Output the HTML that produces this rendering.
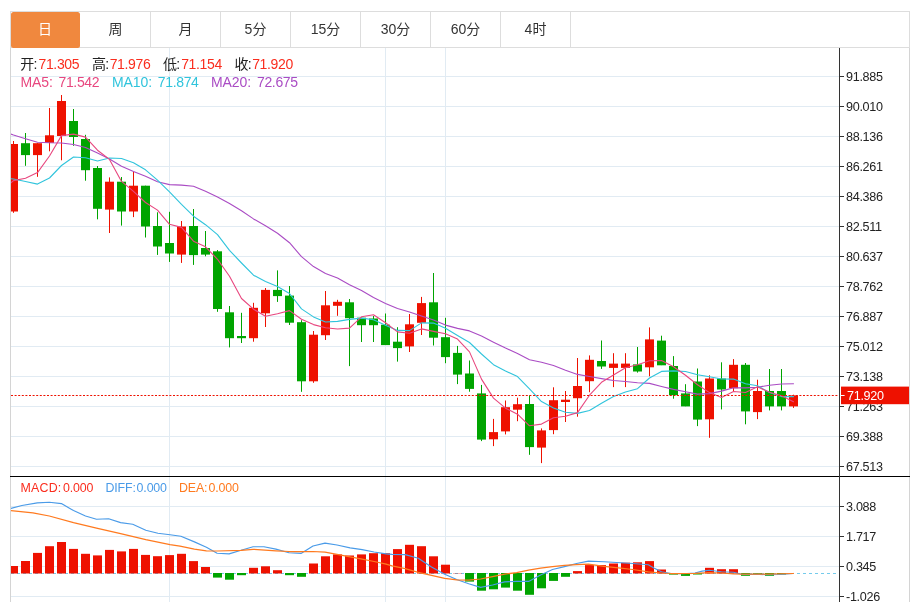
<!DOCTYPE html>
<html lang="zh"><head><meta charset="utf-8"><title>K线图</title>
<style>
html,body{margin:0;padding:0;background:#fff;}
body{width:918px;height:602px;position:relative;overflow:hidden;font-family:"Liberation Sans","Noto Sans CJK SC",sans-serif;}
.tabs{position:absolute;left:10px;top:11px;width:898px;height:35px;border:1px solid #ddd;background:#fff;}
.tab{float:left;width:69px;height:35px;line-height:35px;border-right:1px solid #ddd;text-align:center;font-size:14px;color:#333;}
.tab.on{background:#f0883e;color:#fff;width:68px;padding-right:1px;height:36px;border-right:none;margin-right:1px;border-radius:2.5px;position:relative;}
.ax{font-family:"Liberation Sans",sans-serif;font-size:12.6px;letter-spacing:-0.3px;fill:#222;}
.t{position:absolute;white-space:nowrap;line-height:16px;height:16px;}
.h1{font-size:14px;top:56.1px;}
.h2{font-size:14px;top:74.1px;}
.m{font-size:12.4px;top:480px;letter-spacing:-0.15px;}
.n{letter-spacing:-0.35px;}
.l{letter-spacing:-0.1px;}
</style></head><body>
<svg width="918" height="602" viewBox="0 0 918 602" style="position:absolute;left:0;top:0"><defs><clipPath id="cp"><rect x="11" y="48" width="828" height="554"/></clipPath></defs><rect x="11" y="76" width="828" height="1" fill="#e1ebf3"/><rect x="11" y="106" width="828" height="1" fill="#e1ebf3"/><rect x="11" y="136" width="828" height="1" fill="#e1ebf3"/><rect x="11" y="166" width="828" height="1" fill="#e1ebf3"/><rect x="11" y="196" width="828" height="1" fill="#e1ebf3"/><rect x="11" y="226" width="828" height="1" fill="#e1ebf3"/><rect x="11" y="256" width="828" height="1" fill="#e1ebf3"/><rect x="11" y="286" width="828" height="1" fill="#e1ebf3"/><rect x="11" y="316" width="828" height="1" fill="#e1ebf3"/><rect x="11" y="346" width="828" height="1" fill="#e1ebf3"/><rect x="11" y="376" width="828" height="1" fill="#e1ebf3"/><rect x="11" y="406" width="828" height="1" fill="#e1ebf3"/><rect x="11" y="436" width="828" height="1" fill="#e1ebf3"/><rect x="11" y="466" width="828" height="1" fill="#e1ebf3"/><rect x="11" y="506" width="828" height="1" fill="#e1ebf3"/><rect x="11" y="536" width="828" height="1" fill="#e1ebf3"/><rect x="11" y="566" width="828" height="1" fill="#e1ebf3"/><rect x="11" y="596" width="828" height="1" fill="#e1ebf3"/><rect x="169" y="48" width="1" height="554" fill="#e1ebf3"/><rect x="385" y="48" width="1" height="554" fill="#e1ebf3"/><rect x="445" y="48" width="1" height="554" fill="#e1ebf3"/><rect x="10" y="48" width="1" height="554" fill="#d4d4d4"/><rect x="909" y="48" width="1" height="554" fill="#d4d4d4"/><g clip-path="url(#cp)"><rect x="13" y="141.0" width="1" height="71.8" fill="#ee1100"/><rect x="9" y="144.0" width="9" height="67.5" fill="#ee1100"/><rect x="25" y="133.0" width="1" height="32.8" fill="#00a400"/><rect x="21" y="143.2" width="9" height="11.9" fill="#00a400"/><rect x="37" y="143.2" width="1" height="33.6" fill="#ee1100"/><rect x="33" y="143.2" width="9" height="11.9" fill="#ee1100"/><rect x="49" y="108.0" width="1" height="43.3" fill="#ee1100"/><rect x="45" y="135.3" width="9" height="7.5" fill="#ee1100"/><rect x="61" y="95.0" width="1" height="65.3" fill="#ee1100"/><rect x="57" y="101.0" width="9" height="35.0" fill="#ee1100"/><rect x="73" y="109.0" width="1" height="36.8" fill="#00a400"/><rect x="69" y="121.0" width="9" height="16.0" fill="#00a400"/><rect x="85" y="134.8" width="1" height="45.9" fill="#00a400"/><rect x="81" y="139.0" width="9" height="31.2" fill="#00a400"/><rect x="97" y="166.0" width="1" height="53.3" fill="#00a400"/><rect x="93" y="168.0" width="9" height="40.8" fill="#00a400"/><rect x="109" y="177.4" width="1" height="55.6" fill="#ee1100"/><rect x="105" y="181.7" width="9" height="27.9" fill="#ee1100"/><rect x="121" y="177.0" width="1" height="48.6" fill="#00a400"/><rect x="117" y="181.7" width="9" height="29.8" fill="#00a400"/><rect x="133" y="171.7" width="1" height="45.4" fill="#ee1100"/><rect x="129" y="185.7" width="9" height="25.8" fill="#ee1100"/><rect x="145" y="185.7" width="1" height="51.8" fill="#00a400"/><rect x="141" y="185.7" width="9" height="40.8" fill="#00a400"/><rect x="157" y="212.3" width="1" height="42.6" fill="#00a400"/><rect x="153" y="226.0" width="9" height="20.5" fill="#00a400"/><rect x="169" y="211.8" width="1" height="50.1" fill="#00a400"/><rect x="165" y="243.0" width="9" height="10.5" fill="#00a400"/><rect x="181" y="221.0" width="1" height="41.9" fill="#ee1100"/><rect x="177" y="226.5" width="9" height="28.1" fill="#ee1100"/><rect x="193" y="209.0" width="1" height="55.9" fill="#00a400"/><rect x="189" y="226.0" width="9" height="29.1" fill="#00a400"/><rect x="205" y="231.0" width="1" height="25.3" fill="#00a400"/><rect x="201" y="248.0" width="9" height="6.6" fill="#00a400"/><rect x="217" y="250.0" width="1" height="61.8" fill="#00a400"/><rect x="213" y="251.3" width="9" height="57.7" fill="#00a400"/><rect x="229" y="306.0" width="1" height="41.4" fill="#00a400"/><rect x="225" y="312.3" width="9" height="25.9" fill="#00a400"/><rect x="241" y="312.8" width="1" height="30.2" fill="#00a400"/><rect x="237" y="336.0" width="9" height="2.2" fill="#00a400"/><rect x="253" y="302.8" width="1" height="38.9" fill="#ee1100"/><rect x="249" y="307.8" width="9" height="30.4" fill="#ee1100"/><rect x="265" y="288.0" width="1" height="39.0" fill="#ee1100"/><rect x="261" y="289.9" width="9" height="23.4" fill="#ee1100"/><rect x="277" y="270.4" width="1" height="31.5" fill="#00a400"/><rect x="273" y="289.9" width="9" height="6.2" fill="#00a400"/><rect x="289" y="286.0" width="1" height="39.0" fill="#00a400"/><rect x="285" y="295.6" width="9" height="27.1" fill="#00a400"/><rect x="301" y="320.2" width="1" height="71.6" fill="#00a400"/><rect x="297" y="322.2" width="9" height="59.1" fill="#00a400"/><rect x="313" y="331.0" width="1" height="51.8" fill="#ee1100"/><rect x="309" y="334.7" width="9" height="46.6" fill="#ee1100"/><rect x="325" y="291.0" width="1" height="49.0" fill="#ee1100"/><rect x="321" y="305.3" width="9" height="29.9" fill="#ee1100"/><rect x="337" y="299.8" width="1" height="16.0" fill="#ee1100"/><rect x="333" y="301.8" width="9" height="4.0" fill="#ee1100"/><rect x="349" y="299.0" width="1" height="67.1" fill="#00a400"/><rect x="345" y="302.3" width="9" height="15.9" fill="#00a400"/><rect x="361" y="317.7" width="1" height="24.3" fill="#00a400"/><rect x="357" y="317.7" width="9" height="7.5" fill="#00a400"/><rect x="373" y="316.0" width="1" height="26.0" fill="#00a400"/><rect x="369" y="318.5" width="9" height="6.7" fill="#00a400"/><rect x="385" y="313.5" width="1" height="31.4" fill="#00a400"/><rect x="381" y="324.7" width="9" height="20.4" fill="#00a400"/><rect x="397" y="327.2" width="1" height="34.4" fill="#00a400"/><rect x="393" y="341.7" width="9" height="6.4" fill="#00a400"/><rect x="409" y="314.0" width="1" height="38.0" fill="#ee1100"/><rect x="405" y="324.3" width="9" height="22.1" fill="#ee1100"/><rect x="421" y="296.9" width="1" height="38.1" fill="#ee1100"/><rect x="417" y="303.1" width="9" height="19.7" fill="#ee1100"/><rect x="433" y="273.0" width="1" height="72.5" fill="#00a400"/><rect x="429" y="302.3" width="9" height="35.4" fill="#00a400"/><rect x="445" y="317.8" width="1" height="45.4" fill="#00a400"/><rect x="441" y="337.2" width="9" height="19.9" fill="#00a400"/><rect x="457" y="345.9" width="1" height="38.2" fill="#00a400"/><rect x="453" y="352.9" width="9" height="21.7" fill="#00a400"/><rect x="469" y="360.5" width="1" height="31.2" fill="#00a400"/><rect x="465" y="373.5" width="9" height="15.4" fill="#00a400"/><rect x="481" y="384.9" width="1" height="56.2" fill="#00a400"/><rect x="477" y="393.4" width="9" height="46.2" fill="#00a400"/><rect x="493" y="418.9" width="1" height="27.2" fill="#ee1100"/><rect x="489" y="432.1" width="9" height="7.2" fill="#ee1100"/><rect x="505" y="400.5" width="1" height="33.9" fill="#ee1100"/><rect x="501" y="407.2" width="9" height="24.2" fill="#ee1100"/><rect x="517" y="397.7" width="1" height="23.5" fill="#ee1100"/><rect x="513" y="404.2" width="9" height="5.5" fill="#ee1100"/><rect x="529" y="395.3" width="1" height="59.5" fill="#00a400"/><rect x="525" y="404.0" width="9" height="43.1" fill="#00a400"/><rect x="541" y="428.4" width="1" height="34.7" fill="#ee1100"/><rect x="537" y="430.4" width="9" height="17.2" fill="#ee1100"/><rect x="553" y="387.3" width="1" height="46.9" fill="#ee1100"/><rect x="549" y="400.2" width="9" height="29.9" fill="#ee1100"/><rect x="565" y="391.0" width="1" height="31.0" fill="#ee1100"/><rect x="561" y="399.7" width="9" height="2.3" fill="#ee1100"/><rect x="577" y="358.0" width="1" height="58.7" fill="#ee1100"/><rect x="573" y="386.0" width="9" height="12.2" fill="#ee1100"/><rect x="589" y="355.4" width="1" height="36.8" fill="#ee1100"/><rect x="585" y="359.8" width="9" height="21.4" fill="#ee1100"/><rect x="601" y="340.5" width="1" height="28.4" fill="#00a400"/><rect x="597" y="361.0" width="9" height="5.5" fill="#00a400"/><rect x="613" y="353.2" width="1" height="33.9" fill="#ee1100"/><rect x="609" y="363.6" width="9" height="4.3" fill="#ee1100"/><rect x="625" y="353.2" width="1" height="33.9" fill="#ee1100"/><rect x="621" y="363.6" width="9" height="4.3" fill="#ee1100"/><rect x="637" y="347.0" width="1" height="25.6" fill="#00a400"/><rect x="633" y="364.4" width="9" height="7.1" fill="#00a400"/><rect x="649" y="327.4" width="1" height="48.9" fill="#ee1100"/><rect x="645" y="339.4" width="9" height="27.9" fill="#ee1100"/><rect x="661" y="335.7" width="1" height="29.4" fill="#00a400"/><rect x="657" y="340.6" width="9" height="24.7" fill="#00a400"/><rect x="673" y="356.1" width="1" height="42.6" fill="#00a400"/><rect x="669" y="366.0" width="9" height="29.2" fill="#00a400"/><rect x="685" y="384.2" width="1" height="22.0" fill="#00a400"/><rect x="681" y="393.4" width="9" height="13.0" fill="#00a400"/><rect x="697" y="368.5" width="1" height="57.6" fill="#00a400"/><rect x="693" y="381.5" width="9" height="38.1" fill="#00a400"/><rect x="709" y="375.3" width="1" height="62.5" fill="#ee1100"/><rect x="705" y="378.5" width="9" height="40.8" fill="#ee1100"/><rect x="721" y="362.3" width="1" height="47.1" fill="#00a400"/><rect x="717" y="378.5" width="9" height="11.0" fill="#00a400"/><rect x="733" y="359.1" width="1" height="32.2" fill="#ee1100"/><rect x="729" y="364.8" width="9" height="23.4" fill="#ee1100"/><rect x="745" y="363.0" width="1" height="61.3" fill="#00a400"/><rect x="741" y="364.8" width="9" height="46.6" fill="#00a400"/><rect x="757" y="379.7" width="1" height="39.4" fill="#ee1100"/><rect x="753" y="391.0" width="9" height="21.1" fill="#ee1100"/><rect x="769" y="369.0" width="1" height="41.4" fill="#00a400"/><rect x="765" y="391.0" width="9" height="15.4" fill="#00a400"/><rect x="781" y="369.0" width="1" height="41.4" fill="#00a400"/><rect x="777" y="391.0" width="9" height="15.4" fill="#00a400"/><rect x="793" y="394.7" width="1" height="13.2" fill="#ee1100"/><rect x="789" y="395.4" width="9" height="11.0" fill="#ee1100"/></g><line x1="11" y1="573.5" x2="837" y2="573.5" stroke="#74cbec" stroke-width="1" stroke-dasharray="3 3"/><g clip-path="url(#cp)"><rect x="9" y="566.0" width="9" height="7.5" fill="#ee1100"/><rect x="21" y="561.0" width="9" height="12.5" fill="#ee1100"/><rect x="33" y="552.9" width="9" height="20.6" fill="#ee1100"/><rect x="45" y="546.2" width="9" height="27.3" fill="#ee1100"/><rect x="57" y="542.0" width="9" height="31.5" fill="#ee1100"/><rect x="69" y="548.9" width="9" height="24.6" fill="#ee1100"/><rect x="81" y="553.8" width="9" height="19.7" fill="#ee1100"/><rect x="93" y="555.4" width="9" height="18.1" fill="#ee1100"/><rect x="105" y="549.9" width="9" height="23.6" fill="#ee1100"/><rect x="117" y="551.4" width="9" height="22.1" fill="#ee1100"/><rect x="129" y="548.9" width="9" height="24.6" fill="#ee1100"/><rect x="141" y="554.9" width="9" height="18.6" fill="#ee1100"/><rect x="153" y="556.2" width="9" height="17.3" fill="#ee1100"/><rect x="165" y="555.1" width="9" height="18.4" fill="#ee1100"/><rect x="177" y="553.8" width="9" height="19.7" fill="#ee1100"/><rect x="189" y="561.1" width="9" height="12.4" fill="#ee1100"/><rect x="201" y="567.0" width="9" height="6.5" fill="#ee1100"/><rect x="213" y="573" width="9" height="4.6" fill="#00a400"/><rect x="225" y="573" width="9" height="6.7" fill="#00a400"/><rect x="237" y="573" width="9" height="2.2" fill="#00a400"/><rect x="249" y="567.8" width="9" height="5.7" fill="#ee1100"/><rect x="261" y="566.3" width="9" height="7.2" fill="#ee1100"/><rect x="273" y="570.2" width="9" height="3.3" fill="#ee1100"/><rect x="285" y="573" width="9" height="2.2" fill="#00a400"/><rect x="297" y="573" width="9" height="3.8" fill="#00a400"/><rect x="309" y="563.5" width="9" height="10.0" fill="#ee1100"/><rect x="321" y="556.3" width="9" height="17.2" fill="#ee1100"/><rect x="333" y="554.4" width="9" height="19.1" fill="#ee1100"/><rect x="345" y="555.5" width="9" height="18.0" fill="#ee1100"/><rect x="357" y="554.4" width="9" height="19.1" fill="#ee1100"/><rect x="369" y="553.2" width="9" height="20.3" fill="#ee1100"/><rect x="381" y="553.2" width="9" height="20.3" fill="#ee1100"/><rect x="393" y="549.1" width="9" height="24.4" fill="#ee1100"/><rect x="405" y="544.8" width="9" height="28.7" fill="#ee1100"/><rect x="417" y="546.2" width="9" height="27.3" fill="#ee1100"/><rect x="429" y="556.3" width="9" height="17.2" fill="#ee1100"/><rect x="441" y="564.7" width="9" height="8.8" fill="#ee1100"/><rect x="453" y="573.2" width="9" height="0.3" fill="#ee1100"/><rect x="465" y="573" width="9" height="8.6" fill="#00a400"/><rect x="477" y="573" width="9" height="17.7" fill="#00a400"/><rect x="489" y="573" width="9" height="16.3" fill="#00a400"/><rect x="501" y="573" width="9" height="14.6" fill="#00a400"/><rect x="513" y="573" width="9" height="17.7" fill="#00a400"/><rect x="525" y="573" width="9" height="21.8" fill="#00a400"/><rect x="537" y="573" width="9" height="15.3" fill="#00a400"/><rect x="549" y="573" width="9" height="7.9" fill="#00a400"/><rect x="561" y="573" width="9" height="3.8" fill="#00a400"/><rect x="573" y="571.1" width="9" height="2.4" fill="#ee1100"/><rect x="585" y="565.1" width="9" height="8.4" fill="#ee1100"/><rect x="597" y="565.1" width="9" height="8.4" fill="#ee1100"/><rect x="609" y="563.5" width="9" height="10.0" fill="#ee1100"/><rect x="621" y="562.7" width="9" height="10.8" fill="#ee1100"/><rect x="633" y="562.3" width="9" height="11.2" fill="#ee1100"/><rect x="645" y="561.1" width="9" height="12.4" fill="#ee1100"/><rect x="657" y="569.5" width="9" height="4.0" fill="#ee1100"/><rect x="669" y="573" width="9" height="1.6" fill="#00a400"/><rect x="681" y="573" width="9" height="2.9" fill="#00a400"/><rect x="693" y="573" width="9" height="1.5" fill="#00a400"/><rect x="705" y="567.8" width="9" height="5.7" fill="#ee1100"/><rect x="717" y="569.2" width="9" height="4.3" fill="#ee1100"/><rect x="729" y="569.2" width="9" height="4.3" fill="#ee1100"/><rect x="741" y="573" width="9" height="2.8" fill="#00a400"/><rect x="753" y="573" width="9" height="0.8" fill="#00a400"/><rect x="765" y="573" width="9" height="2.8" fill="#00a400"/><rect x="777" y="573" width="9" height="1.5" fill="#00a400"/></g><g clip-path="url(#cp)"><polyline points="1.5,131.0 13.5,135.0 25.5,138.7 37.5,142.3 49.5,142.8 61.5,143.0 73.5,144.5 85.5,147.5 97.5,153.0 109.5,159.0 121.5,166.3 133.5,171.5 145.5,176.3 157.5,181.8 169.5,184.6 181.5,185.1 193.5,186.2 205.5,191.3 217.5,197.0 229.5,203.5 241.5,210.8 253.5,218.9 265.5,225.7 277.5,233.3 289.5,242.7 301.5,256.7 313.5,266.6 325.5,273.4 337.5,278.0 349.5,284.8 361.5,290.5 373.5,297.5 385.5,303.4 397.5,308.5 409.5,312.0 421.5,315.9 433.5,320.0 445.5,325.1 457.5,328.4 469.5,330.9 481.5,336.0 493.5,342.2 505.5,348.1 517.5,353.5 529.5,359.7 541.5,362.2 553.5,365.5 565.5,370.2 577.5,374.4 589.5,376.5 601.5,378.6 613.5,380.5 625.5,381.5 637.5,382.7 649.5,383.4 661.5,386.5 673.5,389.4 685.5,391.8 697.5,394.1 709.5,393.6 721.5,391.1 733.5,387.7 745.5,387.9 757.5,387.2 769.5,385.2 781.5,384.0 793.5,383.8" fill="none" stroke="#aa4cc4" stroke-width="1.1" stroke-linejoin="round" stroke-linecap="round"/><polyline points="1.5,178.0 13.5,179.0 25.5,181.5 37.5,184.1 49.5,178.0 61.5,165.5 73.5,157.0 85.5,157.8 97.5,161.0 109.5,158.0 121.5,158.5 133.5,162.7 145.5,169.8 157.5,180.1 169.5,191.9 181.5,204.4 193.5,216.2 205.5,224.7 217.5,234.7 229.5,250.3 241.5,263.0 253.5,275.2 265.5,281.6 277.5,286.5 289.5,293.5 301.5,308.9 313.5,316.9 325.5,322.0 337.5,321.4 349.5,319.4 361.5,318.1 373.5,319.7 385.5,325.2 397.5,330.4 409.5,330.6 421.5,322.9 433.5,323.1 445.5,328.2 457.5,335.5 469.5,342.5 481.5,354.0 493.5,364.7 505.5,371.0 517.5,376.6 529.5,388.9 541.5,401.6 553.5,407.9 565.5,412.2 577.5,413.4 589.5,410.5 601.5,403.2 613.5,396.4 625.5,392.0 637.5,388.7 649.5,378.0 661.5,371.4 673.5,370.9 685.5,371.5 697.5,374.8 709.5,376.7 721.5,379.0 733.5,379.1 745.5,383.8 757.5,385.8 769.5,392.5 781.5,396.6 793.5,396.6" fill="none" stroke="#30c4dc" stroke-width="1.1" stroke-linejoin="round" stroke-linecap="round"/><polyline points="1.5,191.0 13.5,180.6 25.5,178.3 37.5,172.6 49.5,156.0 61.5,135.6 73.5,134.1 85.5,137.1 97.5,150.2 109.5,159.4 121.5,181.4 133.5,191.3 145.5,202.5 157.5,210.1 169.5,224.3 181.5,227.4 193.5,241.2 205.5,246.8 217.5,259.3 229.5,276.3 241.5,298.5 253.5,309.2 265.5,316.3 277.5,313.7 289.5,310.6 301.5,319.3 313.5,324.6 325.5,327.7 337.5,329.0 349.5,328.1 361.5,316.8 373.5,314.8 385.5,322.7 397.5,331.9 409.5,333.2 421.5,328.9 433.5,331.4 445.5,333.8 457.5,339.1 469.5,351.9 481.5,379.1 493.5,398.1 505.5,408.2 517.5,414.2 529.5,425.8 541.5,424.1 553.5,417.7 565.5,416.2 577.5,412.6 589.5,395.2 601.5,382.3 613.5,375.0 625.5,367.8 637.5,364.8 649.5,360.7 661.5,360.5 673.5,366.7 685.5,375.2 697.5,384.8 709.5,392.6 721.5,397.4 733.5,391.5 745.5,392.5 757.5,386.8 769.5,392.3 781.5,395.7 793.5,401.8" fill="none" stroke="#e8477f" stroke-width="1.1" stroke-linejoin="round" stroke-linecap="round"/><polyline points="11.0,508.4 21.9,505.5 37.3,502.9 49.3,502.2 61.4,503.6 73.5,510.6 85.5,516.0 96.5,519.3 108.6,518.7 120.6,522.6 132.7,524.2 145.8,530.3 157.9,533.2 170.0,534.7 180.9,536.2 194.4,541.9 206.4,547.2 217.1,553.2 229.1,553.9 241.1,550.3 253.1,546.7 263.9,546.7 275.9,549.1 289.0,552.7 301.0,553.4 313.0,546.0 325.0,543.1 337.0,545.0 350.1,547.9 362.1,549.6 374.1,552.0 386.1,553.9 392.0,554.4 405.2,554.6 418.3,558.2 431.5,567.1 444.7,574.2 456.7,579.5 468.7,583.8 480.6,587.4 492.6,585.0 504.6,581.9 516.6,581.4 528.6,581.4 540.6,575.0 552.5,569.5 564.5,566.6 576.5,563.5 588.5,561.1 604.0,561.8 620.7,562.7 632.7,563.5 648.3,564.7 654.3,568.2 661.5,571.8 671.0,573.5 683.0,573.8 695.0,573.0 702.2,571.1 709.4,570.2 721.4,571.8 733.4,572.3 743.0,574.5 755.0,574.2 767.0,574.7 779.0,574.5 793.3,573.5" fill="none" stroke="#4a9be8" stroke-width="1.15" stroke-linejoin="round" stroke-linecap="round"/><polyline points="11.0,510.6 32.9,512.8 49.3,516.0 73.5,522.6 96.5,528.1 120.6,533.6 145.8,539.7 170.0,544.6 180.0,546.2 194.4,549.1 206.4,550.8 217.1,551.0 241.1,550.3 253.1,549.3 275.9,550.8 289.0,551.5 313.0,551.5 325.0,552.2 337.0,554.4 350.1,556.8 362.1,559.1 374.1,561.5 386.1,564.2 392.0,565.9 405.2,568.7 418.3,572.3 431.5,575.4 444.7,578.3 456.7,579.8 468.7,580.2 480.6,579.0 492.6,576.6 504.6,574.2 516.6,572.6 528.6,570.2 540.6,568.2 552.5,566.6 564.5,565.4 576.5,564.7 588.5,564.2 604.0,566.3 620.7,568.2 632.7,569.5 648.3,571.8 661.5,573.0 671.0,573.5 695.0,573.3 709.4,572.6 721.4,573.0 733.4,573.8 743.0,574.2 767.0,574.0 793.3,573.5" fill="none" stroke="#ff7a1f" stroke-width="1.25" stroke-linejoin="round" stroke-linecap="round"/></g><line x1="11" y1="395.5" x2="838" y2="395.5" stroke="#ee1100" stroke-width="1" stroke-dasharray="2 1.6"/><rect x="10" y="476" width="900" height="1" fill="#000"/><rect x="839" y="48" width="1" height="554" fill="#333"/><rect x="840" y="76" width="4" height="1" fill="#333"/><rect x="840" y="106" width="4" height="1" fill="#333"/><rect x="840" y="136" width="4" height="1" fill="#333"/><rect x="840" y="166" width="4" height="1" fill="#333"/><rect x="840" y="196" width="4" height="1" fill="#333"/><rect x="840" y="226" width="4" height="1" fill="#333"/><rect x="840" y="256" width="4" height="1" fill="#333"/><rect x="840" y="286" width="4" height="1" fill="#333"/><rect x="840" y="316" width="4" height="1" fill="#333"/><rect x="840" y="346" width="4" height="1" fill="#333"/><rect x="840" y="376" width="4" height="1" fill="#333"/><rect x="840" y="406" width="4" height="1" fill="#333"/><rect x="840" y="436" width="4" height="1" fill="#333"/><rect x="840" y="466" width="4" height="1" fill="#333"/><rect x="840" y="506" width="4" height="1" fill="#333"/><rect x="840" y="536" width="4" height="1" fill="#333"/><rect x="840" y="566" width="4" height="1" fill="#333"/><rect x="840" y="596" width="4" height="1" fill="#333"/><text x="846" y="80.5" class="ax">91.885</text><text x="846" y="110.5" class="ax">90.010</text><text x="846" y="140.5" class="ax">88.136</text><text x="846" y="170.5" class="ax">86.261</text><text x="846" y="200.5" class="ax">84.386</text><text x="846" y="230.5" class="ax">82.511</text><text x="846" y="260.5" class="ax">80.637</text><text x="846" y="290.5" class="ax">78.762</text><text x="846" y="320.5" class="ax">76.887</text><text x="846" y="350.5" class="ax">75.012</text><text x="846" y="380.5" class="ax">73.138</text><text x="846" y="410.5" class="ax">71.263</text><text x="846" y="440.5" class="ax">69.388</text><text x="846" y="470.5" class="ax">67.513</text><text x="846" y="510.5" class="ax">3.088</text><text x="846" y="540.5" class="ax">1.717</text><text x="846" y="570.5" class="ax">0.345</text><text x="846" y="600.5" class="ax">-1.026</text><rect x="841" y="386.6" width="68" height="17.6" fill="#ee1100"/><rect x="841" y="395" width="3.6" height="1" fill="#fff"/><text x="847" y="400" class="ax" style="fill:#fff">71.920</text></svg>
<div class="tabs"><div class="tab on">日</div><div class="tab">周</div><div class="tab">月</div><div class="tab">5分</div><div class="tab">15分</div><div class="tab">30分</div><div class="tab">60分</div><div class="tab">4时</div></div>
<span class="t h1" style="left:20.3px;color:#222"><span style="letter-spacing:-0.8px">开</span>:</span><span class="t h1 n" style="left:38.5px;color:#fa2d1e">71.305</span>
<span class="t h1" style="left:92px;color:#222"><span style="letter-spacing:-0.8px">高</span>:</span><span class="t h1 n" style="left:109.7px;color:#fa2d1e">71.976</span>
<span class="t h1" style="left:163px;color:#222"><span style="letter-spacing:-0.8px">低</span>:</span><span class="t h1 n" style="left:181.2px;color:#fa2d1e">71.154</span>
<span class="t h1" style="left:234.5px;color:#222"><span style="letter-spacing:-0.8px">收</span>:</span><span class="t h1 n" style="left:252.2px;color:#fa2d1e">71.920</span>
<span class="t h2 l" style="left:20.5px;color:#e8477f">MA5:</span><span class="t h2 n" style="left:58.5px;color:#e8477f">71.542</span>
<span class="t h2 l" style="left:112px;color:#30c4dc">MA10:</span><span class="t h2 n" style="left:157.8px;color:#30c4dc">71.874</span>
<span class="t h2 l" style="left:211px;color:#aa4cc4">MA20:</span><span class="t h2 n" style="left:257px;color:#aa4cc4">72.675</span>
<span class="t m" style="left:20.5px;color:#fa2d1e;letter-spacing:0.2px">MACD:</span><span class="t m" style="left:63px;color:#fa2d1e">0.000</span>
<span class="t m" style="left:105.5px;color:#4a9be8">DIFF:</span><span class="t m" style="left:136.6px;color:#4a9be8">0.000</span>
<span class="t m" style="left:179px;color:#ff7a1f">DEA:</span><span class="t m" style="left:208.4px;color:#ff7a1f">0.000</span>
</body></html>
